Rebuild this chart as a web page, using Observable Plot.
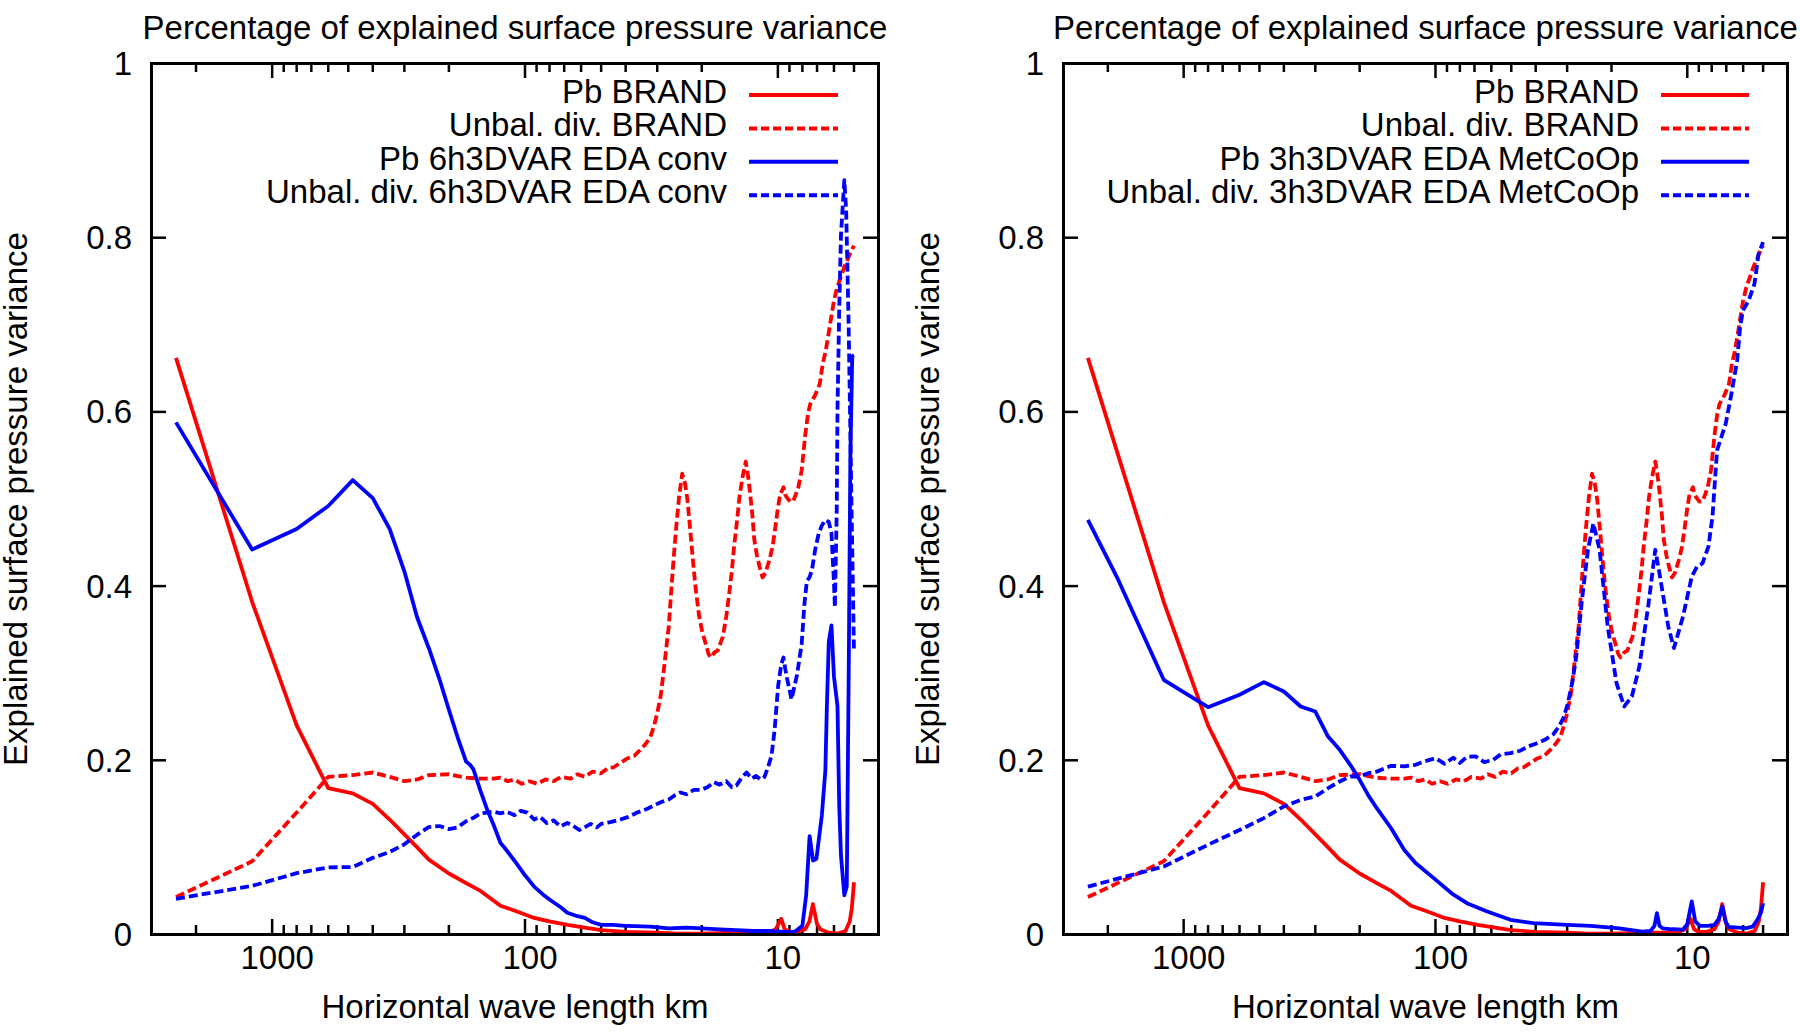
<!DOCTYPE html>
<html><head><meta charset="utf-8">
<script src="https://cdn.jsdelivr.net/npm/d3@7"></script>
<script src="https://cdn.jsdelivr.net/npm/@observablehq/plot@0.6"></script>
<style>
html,body{margin:0;padding:0;background:#fff;overflow:hidden;}
#wrap{display:flex;width:1800px;height:1036px;}
#wrap svg{overflow:visible;display:block;}
</style></head><body><div id="wrap"></div>
<script>
// ---- tick values ----
const xMajorTicks = [1000, 100, 10];
const xMinorTicks = [2000, 900, 800, 700, 600, 500, 400, 300, 200, 90, 80, 70, 60, 50, 40, 30, 20, 9, 8, 7, 6, 5];
const yTicks = [0, 0.2, 0.4, 0.6, 0.8, 1];

const titleText = "Percentage of explained surface pressure variance";
const xLabel = "Horizontal wave length km";
const yLabel = "Explained surface pressure variance";
const leftLegend = ["Pb BRAND", "Unbal. div. BRAND", "Pb 6h3DVAR EDA conv", "Unbal. div. 6h3DVAR EDA conv"];
const rightLegend = ["Pb BRAND", "Unbal. div. BRAND", "Pb 3h3DVAR EDA MetCoOp", "Unbal. div. 3h3DVAR EDA MetCoOp"];

// ---- series: [wavelength km, explained fraction] ----
const pbBrand = [[2400,.662],[1200,.382],[800,.240],[600,.168],[480,.162],[400,.150],[343,.132],[300,.115],[267,.100],[240,.086],[200,.070],[171,.059],[150,.050],[125,.033],[109,.027],[100,.023],[92,.019],[80,.015],[68,.011],[58,.008],[50,.005],[40,.003],[30,.002],[25,.001],[20,.001],[15,.002],[12,.002],[10.8,.003],[10.2,.006],[9.7,.018],[9.4,.006],[9,.003],[8.4,.003],[7.8,.006],[7.5,.015],[7.27,.035],[7.0,.012],[6.8,.006],[6.3,.002],[5.8,.001],[5.4,.004],[5.2,.015],[5.1,.03],[5.0,.06]];

const divBrand = [[2400,.043],[1200,.084],[800,.14],[600,.181],[480,.183],[400,.186],[343,.181],[300,.176],[267,.178],[240,.183],[200,.184],[171,.180],[150,.179],[133,.179],[125,.180],[117,.176],[110,.178],[103,.173],[96,.176],[89.5,.173],[83,.178],[77,.176],[72,.181],[66,.179],[62,.184],[58,.181],[54,.187],[50,.185],[47,.191],[44.6,.192],[42,.197],[39.5,.202],[37,.205],[35,.212],[33.5,.218],[32,.226],[31,.238],[30,.254],[29,.276],[28.3,.302],[27.6,.330],[27,.354],[26.4,.395],[25.8,.434],[25.2,.470],[24.6,.5015],[23.9,.529],[23.3,.518],[22.8,.50],[22.3,.470],[21.8,.4377],[21.2,.40],[20.5,.366],[19.9,.347],[19.3,.334],[18.8,.322],[18.4,.318],[17.8,.324],[17.3,.326],[16.9,.334],[16.5,.342],[16,.365],[15.6,.39],[15.2,.418],[14.9,.4457],[14.5,.475],[14.2,.5015],[13.8,.525],[13.4,.543],[13.1,.525],[12.9,.509],[12.6,.48],[12.4,.4536],[12.1,.435],[11.8,.4217],[11.5,.41],[11.2,.415],[10.8,.43],[10.5,.445],[10.3,.4615],[10.05,.485],[9.8,.5055],[9.65,.509],[9.5,.5134],[9.35,.505],[9.2,.5015],[8.95,.497],[8.7,.4975],[8.5,.505],[8.3,.5134],[8.05,.533],[7.8,.573],[7.6,.598],[7.45,.609],[7.1,.62],[6.83,.632],[6.65,.655],[6.47,.670],[6.3,.69],[6.15,.709],[6.0,.728],[5.83,.743],[5.65,.754],[5.47,.766],[5.3,.775],[5.19,.7815],[5.1,.786],[5.0,.791]];

const pbConv = [[2400,.588],[1200,.442],[800,.4656],[600,.492],[480,.5217],[400,.501],[343,.4656],[300,.417],[267,.364],[240,.3287],[218,.2933],[200,.258],[185,.227],[171,.1986],[165,.195],[160,.1897],[150,.165],[141,.143],[133,.1256],[125,.105],[120,.099],[109,.083],[100,.068],[92,.055],[85,.046],[79,.039],[72,.031],[68,.025],[62,.021],[58,.019],[54,.014],[50,.011],[45,.011],[40,.010],[36.7,.0095],[32,.009],[27,.007],[23,.008],[20,.007],[17,.006],[14.6,.005],[12.5,.004],[10.8,.004],[9.5,.003],[8.6,.003],[8.0,.01],[7.73,.045],[7.49,.113],[7.26,.085],[7.04,.087],[6.7,.137],[6.49,.188],[6.40,.262],[6.29,.336],[6.14,.355],[6.0,.296],[5.81,.262],[5.72,.148],[5.63,.091],[5.46,.045],[5.34,.055],[5.24,.319],[5.17,.546],[5.08,.664],[5.0,.665]];

const divConv = [[2400,.041],[1200,.0558],[800,.0704],[600,.077],[480,.0775],[400,.088],[343,.0947],[300,.1035],[267,.1146],[240,.1234],[218,.1245],[200,.121],[185,.123],[171,.13],[160,.134],[150,.139],[141,.140],[133,.141],[125,.139],[118,.141],[110,.137],[104,.142],[98,.140],[92,.132],[87,.135],[82,.128],[77,.131],[72.4,.124],[68,.128],[64.7,.125],[61,.120],[59,.122],[55,.127],[52,.123],[50,.127],[46,.129],[42,.132],[39,.135],[36,.140],[33,.144],[31,.148],[29,.152],[27,.155],[25.5,.16],[24.3,.163],[23,.161],[21.5,.166],[20.2,.166],[19,.169],[17.9,.175],[17,.172],[16,.176],[15.2,.169],[14.6,.171],[13.9,.180],[13.3,.186],[12.7,.179],[12.2,.182],[11.7,.178],[11.3,.181],[11.0,.19],[10.6,.205],[10.3,.235],[9.97,.286],[9.7,.31],[9.5,.318],[9.35,.305],[9.2,.294],[8.83,.270],[8.6,.285],[8.4,.298],[8.05,.334],[7.85,.38],[7.68,.4057],[7.5,.41],[7.34,.4178],[7.12,.4417],[6.9,.46],[6.7,.4696],[6.49,.476],[6.29,.4736],[6.14,.461],[6.0,.404],[5.95,.3757],[5.85,.49],[5.81,.604],[5.72,.718],[5.63,.803],[5.46,.866],[5.37,.8316],[5.25,.70],[5.12,.50],[5.0,.3245]];

const pbMet = [[2400,.476],[1845,.411],[1200,.2924],[800,.261],[600,.2752],[480,.2897],[400,.279],[343,.2618],[300,.256],[267,.2273],[240,.212],[218,.1948],[200,.1776],[185,.160],[171,.145],[150,.122],[133,.097],[120,.082],[100,.063],[86,.047],[75,.036],[62.3,.0264],[50.4,.0169],[40.9,.013],[30,.011],[24.2,.01],[18.6,.007],[15.1,.0034],[14,.004],[13.5,.01],[13.2,.0245],[12.9,.01],[12.5,.007],[11.5,.006],[10.4,.0057],[10.0,.012],[9.6,.038],[9.3,.015],[8.9,.0099],[8.3,.01],[7.8,.011],[7.5,.018],[7.25,.032],[7.05,.015],[6.85,.0087],[6.3,.008],[5.85,.0073],[5.5,.009],[5.27,.0169],[5.1,.025],[5.0,.036]];

const divMet = [[2400,.055],[1200,.078],[800,.103],[600,.12],[480,.1336],[400,.147],[343,.1546],[300,.1584],[267,.168],[240,.1757],[218,.1814],[200,.1814],[185,.1852],[171,.187],[150,.1937],[133,.193],[120,.1948],[110,.199],[100,.2024],[92,.196],[85,.203],[80,.197],[75,.204],[69.2,.2044],[64,.198],[59,.2005],[55,.207],[50.4,.2082],[46,.211],[43,.2158],[40,.219],[36.8,.2235],[34,.23],[32.3,.2388],[30.9,.25],[29.8,.2656],[28.6,.29],[27.6,.319],[26.2,.384],[24.8,.4417],[23.6,.472],[22.3,.4417],[20.7,.3536],[19.1,.2885],[17.8,.2618],[16.6,.2733],[15.5,.3077],[14.3,.3766],[13.4,.4417],[12.9,.4148],[11.9,.3536],[11.3,.3288],[10.4,.365],[9.6,.411],[9.15,.4225],[8.7,.426],[8.24,.4455],[7.94,.48],[7.62,.5557],[7.04,.5863],[6.68,.6207],[6.34,.659],[6.17,.697],[6.01,.7164],[5.70,.728],[5.41,.747],[5.21,.7815],[5.0,.795]];

// ---- drawing ----
const FONT = "'Liberation Sans', Arial, Helvetica, sans-serif";
const RED = "#ff0000", BLUE = "#0000ff";
const W = 900, H = 1036, MT = 63, MB = 102;

function panel(cfg) {
  const fw = W - cfg.ml - cfg.mr, fh = H - MT - MB;
  const tick = {stroke: "black", strokeWidth: 2.5};
  const txt = {fontFamily: FONT, fontSize: 33, fill: "black"};
  const lineOpts = (data, color, dashed) => Plot.line(data, {
    x: d => d[0], y: d => d[1], stroke: color, strokeWidth: 3.8,
    strokeLinecap: "butt", strokeLinejoin: "round",
    strokeDasharray: dashed ? "9,4" : null
  });
  const svg = Plot.plot({
    width: W, height: H,
    marginLeft: cfg.ml, marginRight: cfg.mr, marginTop: MT, marginBottom: MB,
    x: {type: "log", domain: [3000, 4], axis: null},
    y: {domain: [0, 1], axis: null},
    style: {background: "white", fontFamily: FONT, overflow: "visible"},
    marks: [
      Plot.ruleX(xMajorTicks, {x: d => d, insetTop: fh - 15, ...tick}),
      Plot.ruleX(xMajorTicks, {x: d => d, insetBottom: fh - 15, ...tick}),
      Plot.ruleX(xMinorTicks, {x: d => d, insetTop: fh - 9, ...tick}),
      Plot.ruleX(xMinorTicks, {x: d => d, insetBottom: fh - 9, ...tick}),
      Plot.ruleY(yTicks, {y: d => d, insetRight: fw - 15, ...tick}),
      Plot.ruleY(yTicks, {y: d => d, insetLeft: fw - 15, ...tick}),
      lineOpts(pbBrand, RED, false),
      lineOpts(divBrand, RED, true),
      lineOpts(cfg.pb, BLUE, false),
      lineOpts(cfg.div, BLUE, true),
      Plot.frame({stroke: "black", strokeWidth: 3}),
      Plot.text(xMajorTicks, {x: d => d, text: d => String(d), frameAnchor: "bottom", dy: 34, dx: 5, textAnchor: "middle", ...txt}),
      Plot.text(yTicks, {y: d => d, text: d => String(d), frameAnchor: "left", dx: -19.5, dy: 1, textAnchor: "end", ...txt}),
      Plot.text([titleText], {text: d => d, frameAnchor: "top", dy: -48, textAnchor: "middle", ...txt}),
      Plot.text([xLabel], {text: d => d, frameAnchor: "bottom", dy: 83, textAnchor: "middle", ...txt}),
      Plot.text([yLabel], {text: d => d, frameAnchor: "left", dx: -135, rotate: -90, textAnchor: "middle", ...txt})
    ]
  });
  // legend (key) in the top-right corner of the frame
  const fr = cfg.ml + fw;
  const g = d3.select(svg).append("g");
  const styles = [[RED, null], [RED, "8,4"], [BLUE, null], [BLUE, "8,4"]];
  cfg.legend.forEach((label, i) => {
    const y = MT + 32 + 33.4 * i;
    g.append("text").attr("x", fr + cfg.leg[0]).attr("y", y + 8)
      .attr("text-anchor", "end").attr("font-family", FONT).attr("font-size", 33)
      .attr("fill", "black").text(label);
    g.append("line").attr("x1", fr + cfg.leg[1]).attr("x2", fr + cfg.leg[2])
      .attr("y1", y).attr("y2", y).attr("stroke", styles[i][0]).attr("stroke-width", 4)
      .attr("stroke-dasharray", styles[i][1]);
  });
  return svg;
}

const wrap = document.getElementById("wrap");
wrap.appendChild(panel({ml: 151, mr: 22, pb: pbConv, div: divConv, legend: leftLegend, leg: [-151, -129, -40]}));
wrap.appendChild(panel({ml: 163, mr: 13, pb: pbMet, div: divMet, legend: rightLegend, leg: [-148, -126, -38]}));
</script>
</body></html>
